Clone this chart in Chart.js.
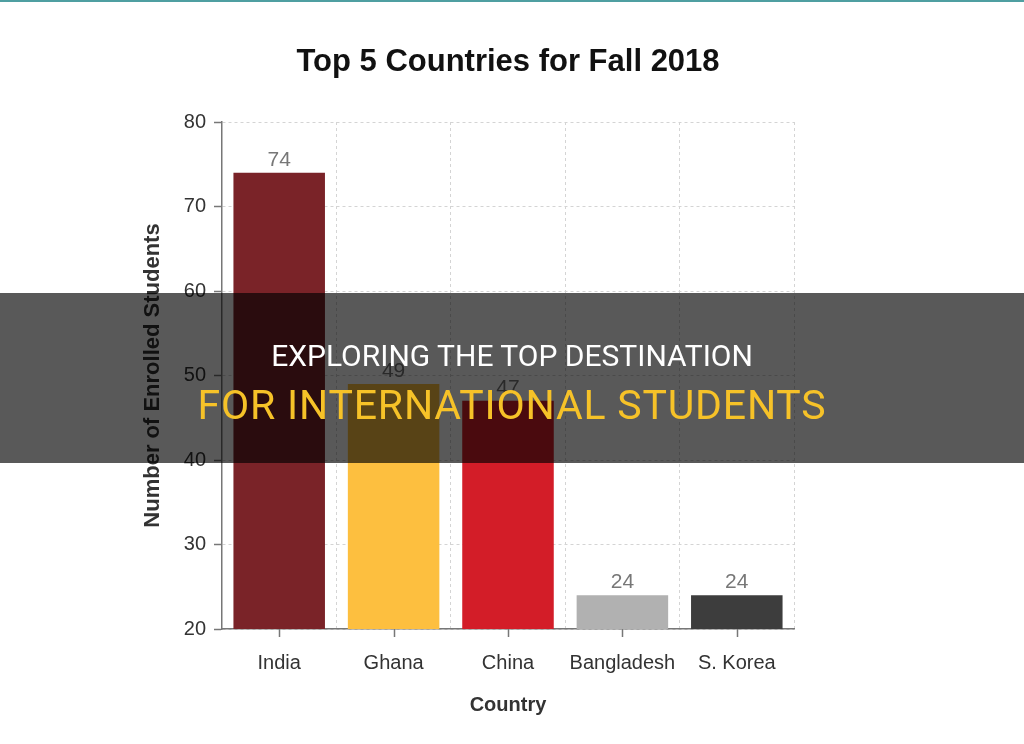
<!DOCTYPE html>
<html>
<head>
<meta charset="utf-8">
<script src="https://cdn.jsdelivr.net/npm/chart.js@4"></script>
<style>
  body { margin: 0; background: #fff; }
  .wrap { position: relative; width: 1024px; height: 744px; overflow: hidden; }
  .topline { position: absolute; left: 0; top: 0; width: 1024px; height: 2px; background: #4f9fa1; }
  .banner { position: absolute; left: 0; top: 293px; width: 1024px; height: 170px; background: rgba(0, 0, 0, 0.65); }
  .banner div { position: absolute; left: 0; width: 1024px; text-align: center; font-family: Roboto, sans-serif; white-space: nowrap; font-weight: 400; }
  .l1 { top: 43px; font-size: 30px; line-height: 40px; color: #fff; }
  .l2 { top: 87px; font-size: 41px; line-height: 50px; color: #f6c228; font-weight: 500; letter-spacing: 0.8px; }
</style>
</head>
<body>
<div class="wrap">
  <canvas id="chart" width="1024" height="744"></canvas>
  <div class="topline"></div>
  <div class="banner">
    <div class="l1">EXPLORING THE TOP DESTINATION</div>
    <div class="l2">FOR INTERNATIONAL STUDENTS</div>
  </div>
</div>
<script>
// datos del grafico
const countries = ["India", "Ghana", "China", "Bangladesh", "S. Korea"];
const enrolled = [74, 49, 47, 24, 24];
const barColors = ["#7a2328", "#fdbf3f", "#d31d28", "#b1b1b1", "#3d3d3d"];
const yTicks = [20, 30, 40, 50, 60, 70, 80];

const FONT = "'Liberation Sans', Arial, sans-serif";

// etiquetas de valor encima de cada barra
const barLabels = {
  id: "barLabels",
  afterDatasetsDraw(chart) {
    const ctx = chart.ctx;
    const meta = chart.getDatasetMeta(0);
    ctx.save();
    ctx.font = "21px " + FONT;
    ctx.fillStyle = "#777";
    ctx.textAlign = "center";
    ctx.textBaseline = "bottom";
    meta.data.forEach((bar, i) => {
      ctx.fillText(enrolled[i], bar.x, bar.y - 2);
    });
    ctx.restore();
  },
};

// marcas cortas del eje x en el centro de cada categoria
const xTickMarks = {
  id: "xTickMarks",
  afterDraw(chart) {
    const ctx = chart.ctx;
    const x = chart.scales.x;
    const bottom = chart.chartArea.bottom;
    ctx.save();
    ctx.strokeStyle = "#777";
    ctx.lineWidth = 1.5;
    countries.forEach((c, i) => {
      const px = Math.round(x.getPixelForValue(i)) + 0.5;
      ctx.beginPath();
      ctx.moveTo(px, bottom);
      ctx.lineTo(px, bottom + 8);
      ctx.stroke();
    });
    ctx.restore();
  },
};

new Chart(document.getElementById("chart").getContext("2d"), {
  type: "bar",
  data: {
    labels: countries,
    datasets: [
      {
        data: enrolled,
        backgroundColor: barColors,
        borderWidth: 0,
        barPercentage: 0.8,
        categoryPercentage: 1,
      },
    ],
  },
  options: {
    responsive: false,
    animation: false,
    layout: { padding: { left: 0, right: 8, top: 0, bottom: 0 } },
    plugins: {
      legend: { display: false },
      tooltip: { enabled: false },
      title: {
        display: true,
        text: "Top 5 Countries for Fall 2018",
        color: "#111",
        font: { family: FONT, size: 31, weight: "bold", lineHeight: 1.2 },
        padding: { top: 44, bottom: 40.8 },
      },
    },
    scales: {
      x: {
        afterFit: (s) => { s.height = 115; },
        grid: { offset: true, color: "#d4d4d4", drawTicks: false },
        border: { color: "#777", width: 1.5, dash: [3, 3] },
        ticks: { color: "#333", padding: 22, font: { family: FONT, size: 20 } },
        title: {
          display: true,
          text: "Country",
          color: "#333",
          font: { family: FONT, size: 20, weight: "bold", lineHeight: 1.2 },
          padding: { top: 0, bottom: 27 },
        },
      },
      y: {
        min: yTicks[0],
        max: yTicks[yTicks.length - 1],
        afterFit: (s) => { s.width = 222; },
        afterBuildTicks: (s) => { s.ticks = yTicks.map((v) => ({ value: v })); },
        grid: {
          color: "#d4d4d4",
          tickColor: "#777",
          tickLength: 8,
          tickWidth: 1.5,
          tickBorderDash: [],
        },
        border: { color: "#777", width: 1.5, dash: [3, 3] },
        ticks: { color: "#333", padding: 8, font: { family: FONT, size: 20 } },
        title: {
          display: true,
          text: "Number of Enrolled Students",
          color: "#333",
          font: { family: FONT, size: 22, weight: "bold", lineHeight: 1.2 },
          padding: { top: 140, bottom: 0 },
        },
      },
      // eje vacio a la derecha para que el titulo quede centrado sobre el area
      yRight: {
        position: "right",
        display: true,
        afterFit: (s) => { s.width = 222; },
        grid: { display: false },
        border: { display: false },
        ticks: { display: false },
      },
    },
  },
  plugins: [barLabels, xTickMarks],
});
</script>
</body>
</html>
